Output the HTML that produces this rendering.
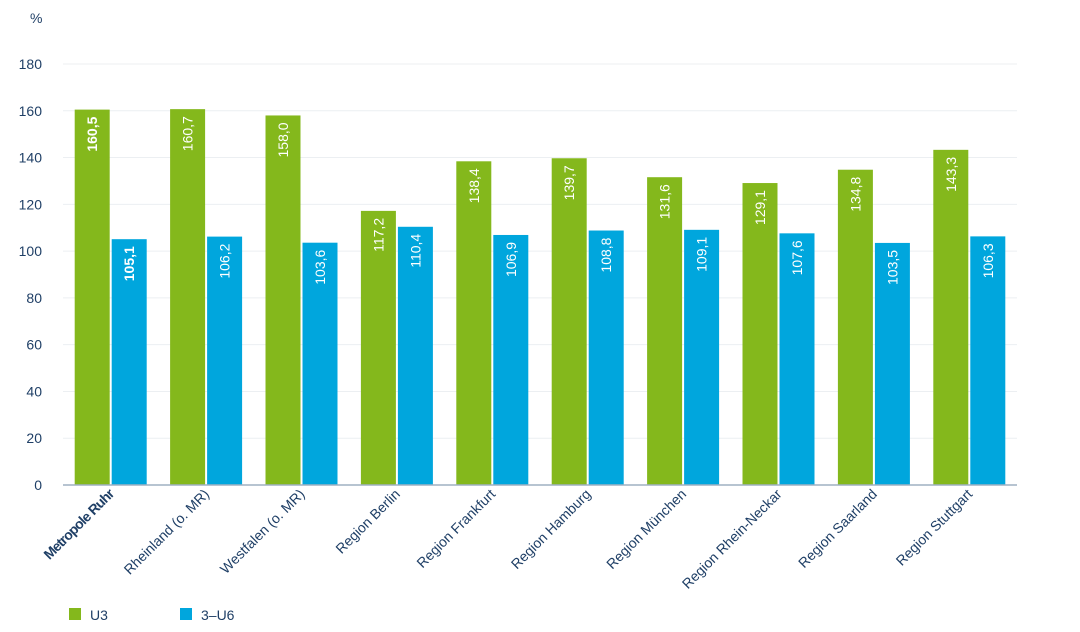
<!DOCTYPE html>
<html><head><meta charset="utf-8"><style>
body{margin:0;background:#fff;}
svg{display:block;font-family:"Liberation Sans",sans-serif;}
</style></head><body>
<svg id="chart" width="1080" height="632" viewBox="0 0 1080 632">
<text x="30" y="23" font-size="14" fill="#1f3f66">%</text>
<g id="grid"></g><g id="bars"></g><g id="xlabels"></g>
<line x1="63" y1="485" x2="1017" y2="485" stroke="#9fb0c2" stroke-width="1.5"/>
<g>
<rect x="69" y="608" width="12" height="12" fill="#84b81c"/>
<text x="90" y="620" font-size="14" fill="#1f3f66">U3</text>
<rect x="180" y="608" width="12" height="12" fill="#00a6dd"/>
<text x="201" y="620" font-size="14" fill="#1f3f66">3–U6</text>
</g>
</svg>
<script>
const categories=["Metropole Ruhr","Rheinland (o. MR)","Westfalen (o. MR)","Region Berlin","Region Frankfurt","Region Hamburg","Region München","Region Rhein-Neckar","Region Saarland","Region Stuttgart"];
const seriesU3=[160.5,160.7,158.0,117.2,138.4,139.7,131.6,129.1,134.8,143.3];
const seriesU6=[105.1,106.2,103.6,110.4,106.9,108.8,109.1,107.6,103.5,106.3];
const yTicks=[0,20,40,60,80,100,120,140,160,180];
const NS="http://www.w3.org/2000/svg";
const y0=485,yTop=64,yMax=180,x0=63,x1=1017;
const y=v=>y0-(v/yMax)*(y0-yTop);
const step=(x1-x0)/categories.length;
const gx=i=>x0+step*i+step/2;
function mk(t,a,p){const e=document.createElementNS(NS,t);for(const k in a)e.setAttribute(k,a[k]);p.appendChild(e);return e;}
const grid=document.getElementById('grid'),bars=document.getElementById('bars'),xl=document.getElementById('xlabels');
yTicks.forEach(t=>{
 if(t>0){const l=mk('line',{x1:x0,x2:x1,y1:y(t),y2:y(t),stroke:'#eceff2','stroke-width':1},grid);
 
 }
 const tx=mk('text',{x:42,y:y(t)+5,'text-anchor':'end','font-size':14,fill:'#1f3f66'},grid);
 
 
 tx.textContent=t;
});
const fmt=v=>v.toFixed(1).replace('.',',');
categories.forEach((c,i)=>{
 const cx=gx(i),bold=i===0;
 [[seriesU3[i],'#84b81c',cx-36,'u3'],[seriesU6[i],'#00a6dd',cx+1,'3-u6']].forEach(([v,col,bx,s])=>{
  const r=mk('rect',{x:bx,y:y(v),width:35,height:y0-y(v),fill:col},bars);
  
  
  const lx=bx+17.5+5,ly=y(v)+7;
  const t=mk('text',{x:lx,y:ly,transform:`rotate(-90 ${lx} ${ly})`,'text-anchor':'end','font-size':14,fill:'#fff','font-weight':bold?'bold':'normal'},bars);
  
  
  t.textContent=fmt(v);
 });
 const lx=cx+4,ly=495;
 const t=mk('text',{x:lx,y:ly,transform:`rotate(-45 ${lx} ${ly})`,'text-anchor':'end','font-size':14,fill:'#1f3f66','font-weight':bold?'bold':'normal','letter-spacing':bold?'-0.8':'0'},xl);
 
 
 t.textContent=c;
});
</script>
</body></html>
